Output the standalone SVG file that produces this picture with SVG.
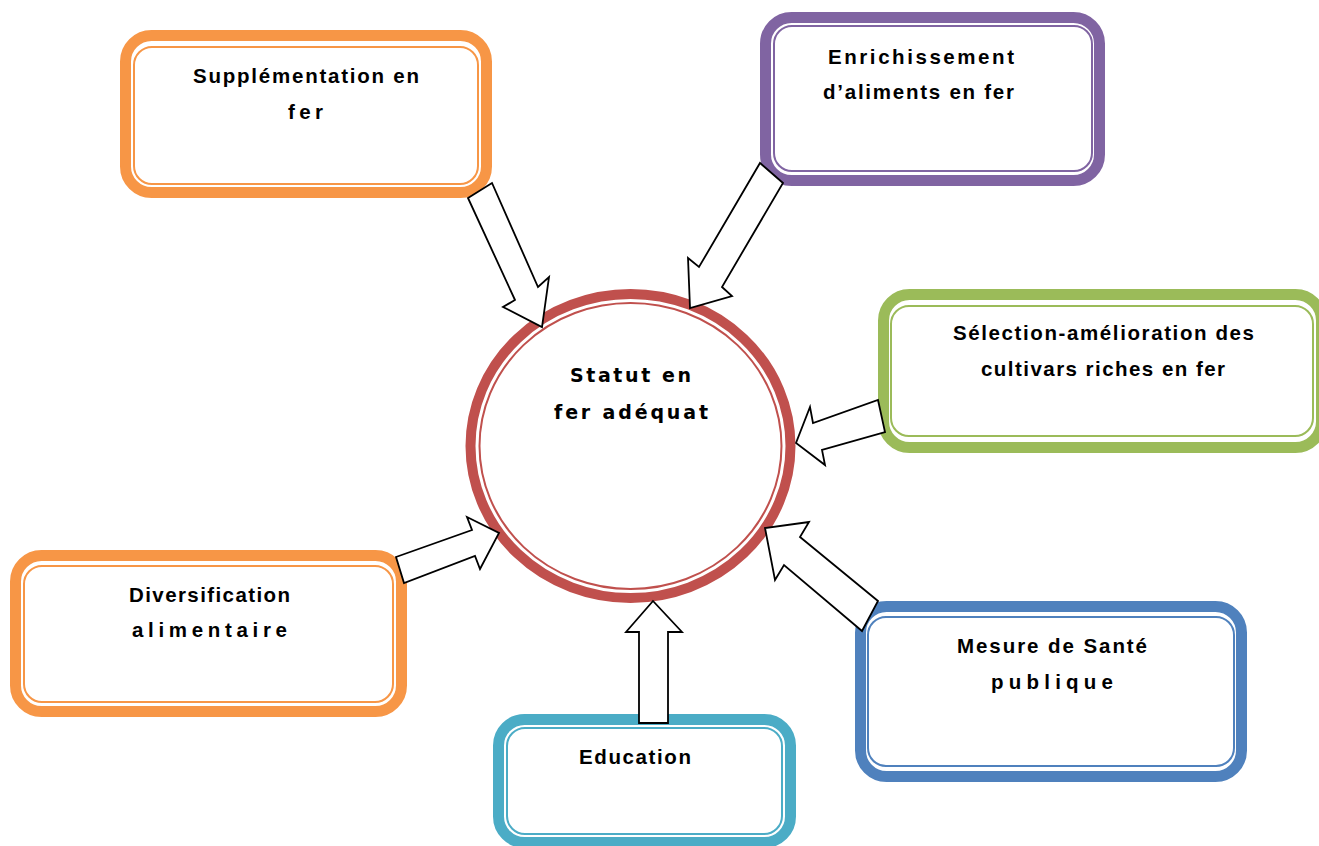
<svg xmlns="http://www.w3.org/2000/svg" width="1319" height="846" viewBox="0 0 1319 846">
<style>
.thick{fill:#fff;stroke-width:11}
.thin{fill:none;stroke-width:2}
.t{font-family:"Liberation Sans",Arial,sans-serif;font-weight:bold;font-size:20.5px;fill:#000}
.c{font-family:"DejaVu Sans","Open Sans",sans-serif;font-weight:bold;font-size:19px;fill:#000}
.arrow{fill:#fff;stroke:#000;stroke-width:1.8;stroke-linejoin:miter}
.orange{stroke:#F79646}.purple{stroke:#8064A2}.green{stroke:#9BBB59}.teal{stroke:#4BACC6}.blue{stroke:#4F81BD}
</style>
<rect width="1319" height="846" fill="#fff"/>
<g id="node-supplementation">
<rect class="thick orange" x="125.5" y="35.5" width="361" height="157" rx="26"/>
<rect class="thin orange" x="134" y="47" width="344" height="137" rx="18"/>
<text class="t" x="193" y="83" textLength="226" lengthAdjust="spacing">Supplémentation en</text>
<text class="t" x="288" y="119" textLength="35" lengthAdjust="spacing">fer</text>
</g>
<g id="node-enrichissement">
<rect class="thick purple" x="765.5" y="17.5" width="334" height="163" rx="26"/>
<rect class="thin purple" x="774" y="26" width="318" height="145" rx="18"/>
<text class="t" x="828" y="64" textLength="186" lengthAdjust="spacing">Enrichissement</text>
<text class="t" x="823" y="99" textLength="191" lengthAdjust="spacing">d’aliments en fer</text>
</g>
<g id="node-selection">
<rect class="thick green" x="883.5" y="294.5" width="438" height="153" rx="26"/>
<rect class="thin green" x="891" y="306" width="422" height="130" rx="18"/>
<text class="t" x="953" y="340" textLength="301" lengthAdjust="spacing">Sélection-amélioration des</text>
<text class="t" x="981" y="376" textLength="244" lengthAdjust="spacing">cultivars riches en fer</text>
</g>
<g id="node-diversification">
<rect class="thick orange" x="15.5" y="555.5" width="386" height="156" rx="26"/>
<rect class="thin orange" x="24" y="566" width="369" height="136" rx="18"/>
<text class="t" x="129" y="602" textLength="161" lengthAdjust="spacing">Diversification</text>
<text class="t" x="132" y="637" textLength="155" lengthAdjust="spacing">alimentaire</text>
</g>
<g id="node-education">
<rect class="thick teal" x="498.5" y="719.5" width="292" height="123" rx="26"/>
<rect class="thin teal" x="507" y="728" width="275" height="106" rx="18"/>
<text class="t" x="579" y="764" textLength="112" lengthAdjust="spacing">Education</text>
</g>
<g id="node-sante">
<rect class="thick blue" x="860.5" y="606.5" width="381" height="170" rx="26"/>
<rect class="thin blue" x="868" y="617" width="366" height="149" rx="18"/>
<text class="t" x="957" y="653" textLength="190" lengthAdjust="spacing">Mesure de Santé</text>
<text class="t" x="991" y="689" textLength="122" lengthAdjust="spacing">publique</text>
</g>
<g id="node-statut">
<ellipse cx="630.5" cy="446" rx="160" ry="152" fill="#fff" stroke="#C0504D" stroke-width="10"/>
<ellipse cx="630.5" cy="446" rx="151" ry="143" fill="none" stroke="#C0504D" stroke-width="2"/>
<text class="c" x="570" y="382" textLength="121" lengthAdjust="spacing">Statut en</text>
<text class="c" x="554" y="419" textLength="154" lengthAdjust="spacing">fer adéquat</text>
</g>
<g id="connectors">
<polygon class="arrow" points="468,198 492,183 538,287 549,277 542,327 503,307 515,300"/>
<polygon class="arrow" points="760,163 783,183 722,287 732,296 690,308 688,258 699,267"/>
<polygon class="arrow" points="878,400 885,432 822,450 825,465 796,443 810,407 813,423"/>
<polygon class="arrow" points="396,557 472,530 467,517 499,533 480,569 475,556 404,583"/>
<polygon class="arrow" points="639,723 668,723 668,632 682,632 653,601 626,632 639,632"/>
<polygon class="arrow" points="878,601 800,537 809,522 765,528 775,580 784,565 862,631"/>
</g>
</svg>
